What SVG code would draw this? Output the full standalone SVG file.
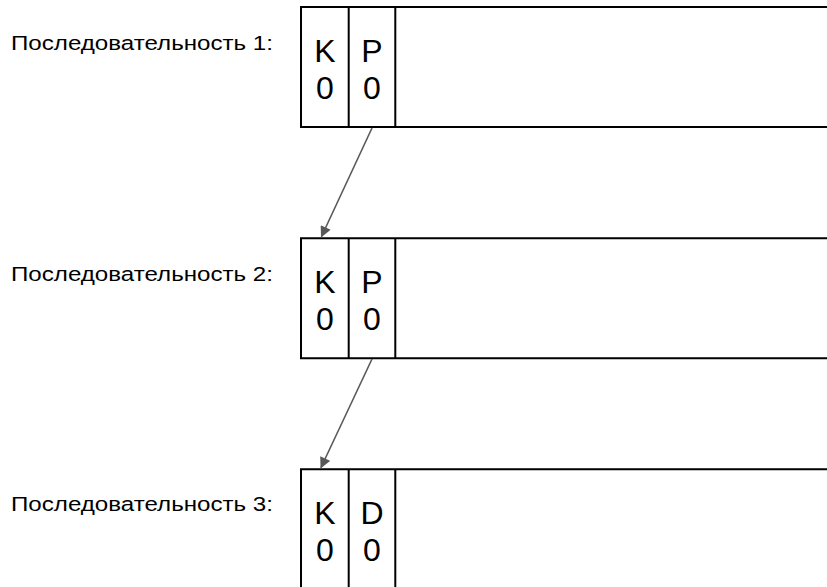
<svg xmlns="http://www.w3.org/2000/svg" width="827" height="587" viewBox="0 0 827 587">
  <style>
    .frame { fill: none; stroke: #000; stroke-width: 2; }
    .cell { font-family: "Liberation Sans", Arial, sans-serif; font-size: 32px; fill: #000; text-anchor: middle; }
    .label { font-family: "Liberation Sans", Arial, sans-serif; font-size: 20.5px; fill: #000; }
    .link { stroke: #595959; stroke-width: 1.6; fill: none; marker-end: url(#head); }
  </style>
  <defs>
    <marker id="head" viewBox="0 0 10 10" refX="9" refY="5" markerWidth="13" markerHeight="11" markerUnits="userSpaceOnUse" orient="auto">
      <path d="M0,0 L10,5 L0,10 z" fill="#595959"/>
    </marker>
  </defs>
  <rect width="827" height="587" fill="#fff"/>

  <g id="seq1">
    <text class="label" x="11" y="49.5" textLength="262" lengthAdjust="spacingAndGlyphs">Последовательность 1:</text>
    <path class="frame" d="M829,7 H301 V127 H829 M348.7,7 V127 M395.3,7 V127"/>
    <text class="cell" x="325" y="62">K</text>
    <text class="cell" x="325" y="99">0</text>
    <text class="cell" x="372" y="62">P</text>
    <text class="cell" x="372" y="99">0</text>
  </g>

  <g id="seq2">
    <text class="label" x="11" y="280.7" textLength="262" lengthAdjust="spacingAndGlyphs">Последовательность 2:</text>
    <path class="frame" d="M829,238.3 H301 V358.3 H829 M348.7,238.3 V358.3 M395.3,238.3 V358.3"/>
    <text class="cell" x="325" y="293">K</text>
    <text class="cell" x="325" y="330">0</text>
    <text class="cell" x="372" y="293">P</text>
    <text class="cell" x="372" y="330">0</text>
  </g>

  <g id="seq3">
    <text class="label" x="11" y="510.7" textLength="262" lengthAdjust="spacingAndGlyphs">Последовательность 3:</text>
    <path class="frame" d="M829,469.3 H301 V590 M348.7,469.3 V590 M395.3,469.3 V590"/>
    <text class="cell" x="325" y="524">K</text>
    <text class="cell" x="325" y="561">0</text>
    <text class="cell" x="372" y="524">D</text>
    <text class="cell" x="372" y="561">0</text>
  </g>

  <g id="connectors">
    <line class="link" x1="372" y1="128" x2="321.5" y2="236.5"/>
    <line class="link" x1="372" y1="359" x2="321" y2="467.5"/>
  </g>
</svg>
